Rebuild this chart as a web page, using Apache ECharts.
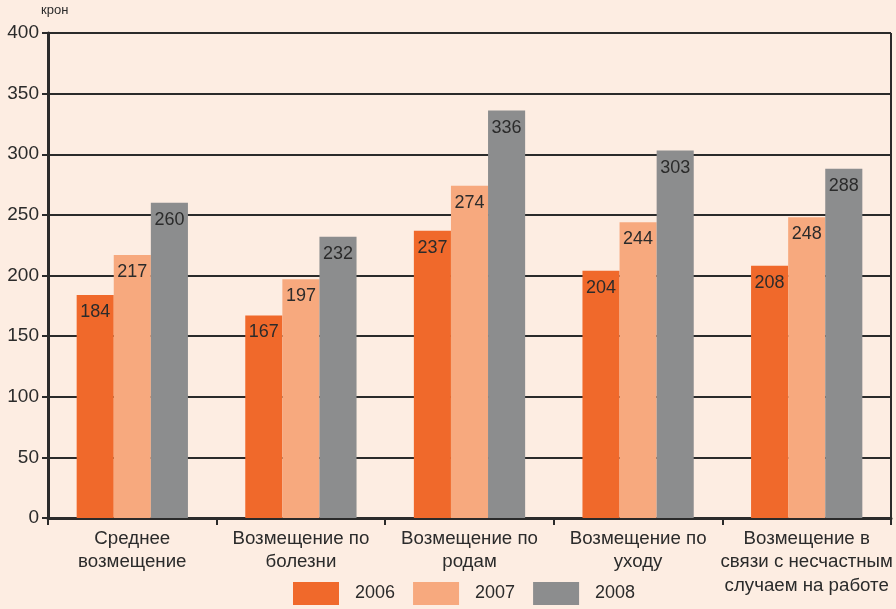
<!DOCTYPE html>
<html><head><meta charset="utf-8">
<script src="https://cdn.jsdelivr.net/npm/echarts@6/dist/echarts.min.js"></script>
<style>html,body{margin:0;padding:0;background:#FDEDE2;}#c{width:896px;height:609px;}</style>
</head><body><div id="c"></div>
<script>
const categories = ['Среднее\nвозмещение','Возмещение по\nболезни','Возмещение по\nродам','Возмещение по\nуходу','Возмещение в\nсвязи с несчастным\nслучаем на работе'];
const years = ['2006','2007','2008'];
const v2006 = [184,167,237,204,208];
const v2007 = [217,197,274,244,248];
const v2008 = [260,232,336,303,288];
const colors = ['#F0692B','#F7A97E','#8C8D8E'];
const values = [v2006, v2007, v2008];

const FONT = 'Liberation Sans, Arial, sans-serif';
const chart = echarts.init(document.getElementById('c'));
chart.setOption({
  backgroundColor: '#FDEDE2',
  animation: false,
  textStyle: {fontFamily: FONT},
  graphic: [{type:'text', left: 41, top: 4, style:{text:'крон', fontSize: 13, fill:'#2b2b2b', fontFamily: FONT}},
            {type:'line', shape:{x1:891,y1:33,x2:891,y2:518}, style:{stroke:'#2b2b2b', lineWidth:2}}],
  grid: {left: 48, right: 5, top: 33, bottom: 91, containLabel: false},
  legend: {
    top: 582, left: 293, padding: 0, itemWidth: 46, itemHeight: 23, itemGap: 18,
    icon: 'rect',
    textStyle: {fontSize: 18, color: '#2b2b2b', padding: [0,0,0,11]},
    data: years
  },
  xAxis: {
    type: 'category', data: categories,
    axisLine: {lineStyle: {color: '#2b2b2b', width: 3}},
    axisTick: {show: true, alignWithLabel: false, length: 7, lineStyle: {color:'#2b2b2b', width: 2}},
    axisLabel: {fontSize: 18.7, color: '#2b2b2b', lineHeight: 23.5, margin: 9, interval: 0}
  },
  yAxis: {
    type: 'value', min: 0, max: 400, interval: 50,
    axisLine: {show: true, lineStyle: {color: '#2b2b2b', width: 3}},
    axisTick: {show: true, length: 6, lineStyle: {color:'#2b2b2b', width: 2}},
    axisLabel: {fontSize: 19, color: '#2b2b2b', margin: 9},
    splitLine: {lineStyle: {color: '#2b2b2b', width: 2}}
  },
  series: years.map((y, i) => ({
    name: y, type: 'bar', data: values[i], barGap: '0%', barCategoryGap: '34%',
    itemStyle: {color: colors[i]},
    label: {show: true, position: 'insideTop', distance: 8, fontSize: 18, color: '#2b2b2b'}
  }))
});
</script></body></html>
